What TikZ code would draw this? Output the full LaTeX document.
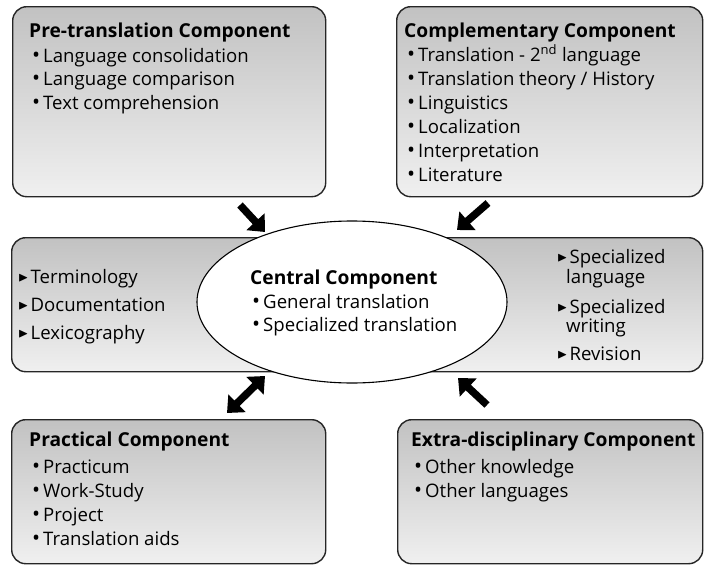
\documentclass[tikz,border=0pt]{standalone}
\usepackage{fontspec}
\usepackage{amssymb}
\setmainfont{Open Sans}
\usetikzlibrary{arrows.meta,shapes.geometric}
\newcommand\tri{\raisebox{0.1em}{\scalebox{0.72}{$\blacktriangleright$}}\hspace{2pt}}
\newcommand\bul{\scalebox{1.15}{•}\hspace{3pt}}
\tikzset{
  box/.style={draw=black!85, line width=1.4pt, rounded corners=14pt, anchor=north west,
    top color=black!24, bottom color=black!6, inner sep=0pt},
  ttl/.style={anchor=base west, inner sep=0pt, font=\fontsize{19.2}{21}\selectfont\bfseries},
  itm/.style={anchor=base west, inner sep=0pt, font=\fontsize{18.6}{21}\selectfont},
  bigarrow/.style={line width=7.5pt, -{Triangle[length=14pt,width=24pt]}},
  dblarrow/.style={line width=7.5pt, {Triangle[length=14pt,width=24pt]}-{Triangle[length=14pt,width=24pt]}},
}
\begin{document}
\begin{tikzpicture}[x=1pt,y=-1pt]
\useasboundingbox (0,0) rectangle (705,565);
% boxes
\node[box, minimum width=313pt, minimum height=190pt] (pre) at (12,6) {};
\node[box, minimum width=306pt, minimum height=190pt] (comp) at (396,6) {};
\node[box, minimum width=691pt, minimum height=134pt] (band) at (11,237) {};
\node[box, minimum width=314pt, minimum height=144pt] (prac) at (11,419) {};
\node[box, minimum width=305pt, minimum height=144pt] (extra) at (397,419) {};
\node[ellipse, draw=black, line width=1.1pt, fill=white, minimum width=310pt, minimum height=162pt, inner sep=0pt] (central) at (352,302) {};
% pre-translation
\node[ttl] (preT) at (29,37) {Pre-translation Component};
\node[itm] (pre1) at (32,62) {\bul Language consolidation};
\node[itm] (pre2) at (32,85.5) {\bul Language comparison};
\node[itm] (pre3) at (32,109) {\bul Text comprehension};
% complementary
\node[ttl] (compT) at (404,37) {Complementary Component};
\node[itm] (comp1) at (407,61) {\bul Translation - 2\textsuperscript{nd} language};
\node[itm] (comp2) at (407,85) {\bul Translation theory / History};
\node[itm] (comp3) at (407,109) {\bul Linguistics};
\node[itm] (comp4) at (407,133) {\bul Localization};
\node[itm] (comp5) at (407,157) {\bul Interpretation};
\node[itm] (comp6) at (407,181) {\bul Literature};
% band left
\node[itm] (l1) at (18,283) {\tri Terminology};
\node[itm] (l2) at (18,311) {\tri Documentation};
\node[itm] (l3) at (18,339) {\tri Lexicography};
% band right
\node[itm] (r1) at (557,263) {\tri Specialized};
\node[itm] (r1b) at (566,283) {language};
\node[itm] (r2) at (557,313) {\tri Specialized};
\node[itm] (r2b) at (566,332) {writing};
\node[itm] (r3) at (557,360) {\tri Revision};
% central
\node[ttl] (cenT) at (250,284) {Central Component};
\node[itm] (cen1) at (252,308) {\bul General translation};
\node[itm] (cen2) at (252,331) {\bul Specialized translation};
% practical
\node[ttl] (pracT) at (29,446) {Practical Component};
\node[itm] (prac1) at (32,473) {\bul Practicum};
\node[itm] (prac2) at (32,497) {\bul Work-Study};
\node[itm] (prac3) at (32,521) {\bul Project};
\node[itm] (prac4) at (32,545) {\bul Translation aids};
% extra
\node[ttl] (extraT) at (411,446) {Extra-disciplinary Component};
\node[itm] (extra1) at (414,473) {\bul Other knowledge};
\node[itm] (extra2) at (414,497) {\bul Other languages};
% arrows
\coordinate (a1s) at (240,205); \coordinate (a1e) at (265,232);
\coordinate (a2s) at (488,203); \coordinate (a2e) at (457,230);
\coordinate (a3s) at (227,413); \coordinate (a3e) at (265,376);
\coordinate (a4s) at (487,405); \coordinate (a4e) at (458,378);
\draw[bigarrow] (a1s) -- (a1e);
\draw[bigarrow] (a2s) -- (a2e);
\draw[dblarrow] (a3s) -- (a3e);
\draw[bigarrow] (a4s) -- (a4e);
\end{tikzpicture}
\end{document}
